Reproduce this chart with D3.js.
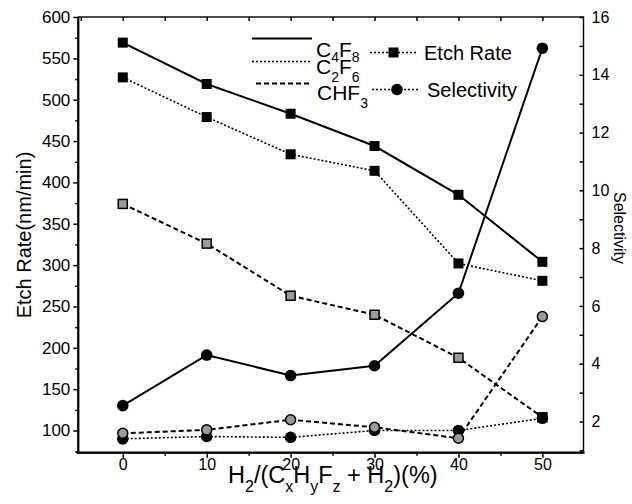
<!DOCTYPE html>
<html>
<head>
<meta charset="utf-8">
<script src="https://cdn.jsdelivr.net/npm/d3@7"></script>
<style>
body { margin: 0; background: #fff; }
svg { display: block; font-family: "Liberation Sans", Arial, sans-serif; }
</style>
</head>
<body>
<div id="plot"></div>
<script>
// H2 fraction (%)
const hPercent = [0, 10, 20, 30, 40, 50];

// etch rate (nm/min), left axis
const rateC4F8 = [569, 519, 483, 444, 385, 304];
const rateC2F6 = [527, 479, 434, 414, 302, 281];
const rateCHF3 = [374, 326, 263, 240, 188, 116];

// selectivity, right axis
const selC4F8 = [2.55, 4.30, 3.59, 3.93, 6.44, 14.92];
const selC2F6 = [1.40, 1.48, 1.45, 1.69, 1.69, 2.11];
const selCHF3 = [1.59, 1.71, 2.06, 1.80, 1.42, 5.63];

const xTicks = [0, 10, 20, 30, 40, 50];
const leftTicks = [100, 150, 200, 250, 300, 350, 400, 450, 500, 550, 600];
const rightTicks = [2, 4, 6, 8, 10, 12, 14, 16];

const width = 632, height = 504;
const plotLeft = 78.3, plotRight = 583.5, plotTop = 17, plotBottom = 452.7;

const svg = d3.create("svg")
    .attr("width", width)
    .attr("height", height)
    .attr("viewBox", [0, 0, width, height]);

const x = d3.scaleLinear().domain([-5.3, 54.9]).range([plotLeft, plotRight]);
const yL = d3.scaleLinear().domain([73.2, 600]).range([plotBottom, plotTop]);
const yR = d3.scaleLinear().domain([0.92, 16]).range([plotBottom, plotTop]);

function styleAxis(g, size) {
    g.select(".domain").remove();
    g.selectAll(".tick line").attr("stroke", "#000").attr("stroke-width", 1.5);
    g.selectAll(".tick text").attr("fill", "#000").style("font-size", size + "px")
        .style("font-family", "'Liberation Sans', Arial, sans-serif");
}

// bottom axis
svg.append("g").attr("transform", `translate(0,${plotBottom})`)
    .call(d3.axisBottom(x).tickValues(d3.range(5, 51, 10)).tickSize(3).tickFormat(""))
    .call(g => styleAxis(g, 16));
svg.append("g").attr("transform", `translate(0,${plotBottom})`)
    .call(d3.axisBottom(x).tickValues(xTicks).tickSize(5).tickPadding(1))
    .call(g => styleAxis(g, 16));

// top axis, inward ticks
svg.append("g").attr("transform", `translate(0,${plotTop})`)
    .call(d3.axisBottom(x).tickValues(d3.range(-5, 56, 5).filter(v => v > -5.3 && v < 54.9))
        .tickSize(4).tickFormat(""))
    .call(g => styleAxis(g, 16));

// left axis
svg.append("g").attr("transform", `translate(${plotLeft},0)`)
    .call(d3.axisLeft(yL).tickValues(d3.range(75, 600, 50)).tickSize(3).tickFormat(""))
    .call(g => styleAxis(g, 17));
svg.append("g").attr("transform", `translate(${plotLeft},0)`)
    .call(d3.axisLeft(yL).tickValues(leftTicks).tickSize(5).tickPadding(3))
    .call(g => styleAxis(g, 17));

// right axis, ticks inward, labels outside
svg.append("g").attr("transform", `translate(${plotRight},0)`)
    .call(d3.axisLeft(yR).tickValues(d3.range(1, 16, 2)).tickSize(4).tickFormat(""))
    .call(g => styleAxis(g, 16));
svg.append("g").attr("transform", `translate(${plotRight},0)`)
    .call(d3.axisLeft(yR).tickValues(rightTicks).tickSize(4).tickFormat(""))
    .call(g => styleAxis(g, 16));
svg.append("g").attr("transform", `translate(${plotRight},0)`)
    .call(d3.axisRight(yR).tickValues(rightTicks).tickSize(0).tickPadding(8))
    .call(g => styleAxis(g, 16));

// frame
svg.append("rect")
    .attr("x", plotLeft).attr("y", plotTop)
    .attr("width", plotRight - plotLeft).attr("height", plotBottom - plotTop)
    .attr("fill", "none").attr("stroke", "#000").attr("stroke-width", 1.4);
svg.append("line").attr("x1", plotLeft - 2).attr("x2", plotRight + 1)
    .attr("y1", plotBottom).attr("y2", plotBottom)
    .attr("stroke", "#000").attr("stroke-width", 2.2);
svg.append("line").attr("x1", plotLeft).attr("x2", plotLeft)
    .attr("y1", plotTop).attr("y2", plotBottom + 1)
    .attr("stroke", "#000").attr("stroke-width", 2.2);

const styles = {
    solid: { dash: null, w: 2 },
    dot: { dash: "2,2", w: 1.6 },
    dash: { dash: "5,3", w: 2 }
};

const series = [
    { xs: hPercent, ys: rateC4F8, scale: yL, line: "solid", mark: "square", fill: "#000" },
    { xs: hPercent, ys: rateC2F6, scale: yL, line: "dot", mark: "square", fill: "#000" },
    { xs: hPercent, ys: rateCHF3, scale: yL, line: "dash", mark: "square", fill: "#9a9a9a" },
    { xs: hPercent, ys: selC4F8, scale: yR, line: "solid", mark: "circle", fill: "#000" },
    { xs: hPercent, ys: selC2F6, scale: yR, line: "dot", mark: "circle", fill: "#000" },
    { xs: hPercent, ys: selCHF3, scale: yR, line: "dash", mark: "circle", fill: "#9a9a9a" }
];

series.forEach(s => {
    const pts = s.xs.map((v, i) => [x(v), s.scale(s.ys[i])]);
    svg.append("path")
        .attr("d", d3.line()(pts))
        .attr("fill", "none")
        .attr("stroke", "#000")
        .attr("stroke-width", styles[s.line].w)
        .attr("stroke-dasharray", styles[s.line].dash);
});

series.forEach(s => {
    const pts = s.xs.map((v, i) => [x(v), s.scale(s.ys[i])]);
    const gray = s.fill !== "#000";
    if (s.mark === "square") {
        const sz = gray ? 9 : 10;
        svg.append("g").selectAll("rect").data(pts).join("rect")
            .attr("x", d => d[0] - sz / 2).attr("y", d => d[1] - sz / 2)
            .attr("width", sz).attr("height", sz)
            .attr("fill", s.fill).attr("stroke", "#000").attr("stroke-width", gray ? 1.5 : 0);
    } else {
        svg.append("g").selectAll("circle").data(pts).join("circle")
            .attr("cx", d => d[0]).attr("cy", d => d[1])
            .attr("r", gray ? 5 : 5.8)
            .attr("fill", s.fill).attr("stroke", "#000").attr("stroke-width", gray ? 1.5 : 0);
    }
});

// text with subscripts: parts = [text, isSub]
function richText(g, px, py, parts, size, subSize, subDy) {
    const t = g.append("text").attr("x", px).attr("y", py)
        .style("font-size", size + "px").attr("fill", "#000");
    let down = false;
    parts.forEach(([str, sub]) => {
        const ts = t.append("tspan").text(str);
        if (sub && !down) { ts.attr("dy", subDy).style("font-size", subSize + "px"); down = true; }
        else if (sub) { ts.style("font-size", subSize + "px"); }
        else if (!sub && down) { ts.attr("dy", -subDy); down = false; }
    });
    return t;
}

// legend
const legendLines = [["solid", 38.5], ["dot", 61.5], ["dash", 83.5]];
legendLines.forEach(([k, ly]) => {
    svg.append("line").attr("x1", k === "dash" ? 256 : 252).attr("x2", 312)
        .attr("y1", ly).attr("y2", ly)
        .attr("stroke", "#000").attr("stroke-width", styles[k].w)
        .attr("stroke-dasharray", styles[k].dash);
});
richText(svg, 316, 57, [["C", false], ["4", true], ["F", false], ["8", true]], 21, 14, 5);
richText(svg, 316, 74, [["C", false], ["2", true], ["F", false], ["6", true]], 21, 14, 8);
richText(svg, 317, 100, [["CHF", false], ["3", true]], 21, 14, 8);

svg.append("line").attr("x1", 370).attr("x2", 418).attr("y1", 52.5).attr("y2", 52.5)
    .attr("stroke", "#000").attr("stroke-width", 1.6).attr("stroke-dasharray", "2,2");
svg.append("rect").attr("x", 388.5).attr("y", 47.5).attr("width", 10).attr("height", 10).attr("fill", "#000");
svg.append("text").attr("x", 424).attr("y", 59.5).style("font-size", "20px").text("Etch Rate");

svg.append("line").attr("x1", 372).attr("x2", 418).attr("y1", 89.5).attr("y2", 89.5)
    .attr("stroke", "#000").attr("stroke-width", 1.6).attr("stroke-dasharray", "2,2");
svg.append("circle").attr("cx", 397).attr("cy", 89.5).attr("r", 5.8).attr("fill", "#000");
svg.append("text").attr("x", 427).attr("y", 96.7).style("font-size", "20px").text("Selectivity");

// axis titles
svg.append("text")
    .attr("transform", "translate(31,235) rotate(-90)")
    .attr("text-anchor", "middle")
    .style("font-size", "20px")
    .text("Etch Rate(nm/min)");

svg.append("text")
    .attr("transform", "translate(614,228) rotate(90)")
    .attr("text-anchor", "middle")
    .style("font-size", "16px")
    .text("Selectivity");

richText(svg, 228, 483,
    [["H", false], ["2", true], ["/(C", false], ["x", true], ["H", false], ["y", true],
     ["F", false], ["z", true], [" + H", false], ["2", true], [")(%)", false]],
    23.5, 16, 9);

document.getElementById("plot").appendChild(svg.node());
</script>
</body>
</html>
